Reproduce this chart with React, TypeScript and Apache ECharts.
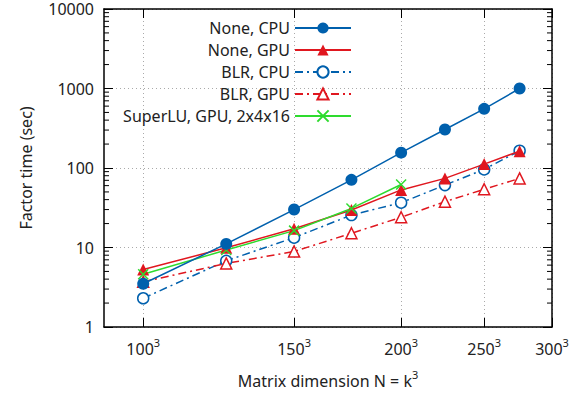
import React, { useEffect, useRef } from "react";
import * as echarts from "echarts";

const kValues = [100, 125, 150, 175, 200, 225, 250, 275];
const noneCpu = [3.5, 11.1, 30, 71, 156, 305, 555, 1000];
const noneGpu = [5.3, 9.9, 17.2, 29.6, 53, 74, 112, 163];
const blrCpu = [2.3, 6.8, 13.3, 25.6, 36.6, 61, 96, 165];
const blrGpu = [3.7, 6.3, 8.9, 15.1, 24, 37.7, 54, 74];
const superluK = [100, 125, 150, 175, 200];
const superluGpu = [4.6, 9.3, 16.3, 31, 62];
const xTickK = [100, 150, 200, 250, 300];
const xMinK = 90;
const xMaxK = 300;
const yMinorTicks = [2, 3, 4, 5, 6, 7, 8, 9, 20, 30, 40, 50, 60, 70, 80, 90, 200, 300, 400, 500, 600, 700, 800, 900, 2000, 3000, 4000, 5000, 6000, 7000, 8000, 9000];

const BLUE = "#0060ad";
const RED = "#e0171f";
const GREEN = "#2edb2e";
const FONT = "Noto Sans";

const cube = (k: number) => k * k * k;
const pairs = (ks: number[], vs: number[]) => ks.map((k, i) => [cube(k), vs[i]]);

export default function App() {
  const ref = useRef<HTMLDivElement>(null);
  useEffect(() => {
    document.body.style.margin = "0";
    const chart = echarts.init(ref.current!, null, { renderer: "svg" });
    const xTicks = xTickK.map(cube);
    const dashDot = [8, 4, 2, 4];
    const option: any = {
      animation: false,
      textStyle: { fontFamily: FONT },
      grid: { left: 104, right: 25, top: 9, bottom: 67, outerBoundsMode: "none", containLabel: false },
      legend: {
        orient: "vertical",
        align: "right",
        right: 225,
        top: 19,
        padding: 0,
        itemWidth: 56,
        itemHeight: 14,
        itemGap: 4,
        textStyle: { fontFamily: FONT, fontSize: 16, color: "#222", lineHeight: 18 },
        data: ["None, CPU", "None, GPU", "BLR, CPU", "BLR, GPU", "SuperLU, GPU, 2x4x16"],
      },
      xAxis: [
        {
          type: "log",
          logBase: 10,
          min: cube(xMinK),
          max: cube(xMaxK),
          name: "{a|Matrix dimension N = k}{s|3}",
          nameLocation: "middle",
          nameGap: 42,
          nameTextStyle: {
            rich: {
              a: { fontFamily: FONT, fontSize: 16, color: "#222", lineHeight: 20, verticalAlign: "bottom" },
              s: { fontFamily: FONT, fontSize: 11, color: "#222", lineHeight: 20, verticalAlign: "top" },
            },
          },
          axisLine: { show: true, onZero: false, lineStyle: { color: "#000", width: 1.5 } },
          axisTick: { show: true, inside: true, length: 9, customValues: xTicks, lineStyle: { color: "#000", width: 1 } },
          axisLabel: {
            customValues: xTicks,
            margin: 10,
            formatter: (v: number) => `{a|${Math.round(Math.cbrt(v))}}{s|3}`,
            rich: {
              a: { fontFamily: FONT, fontSize: 16, color: "#222", lineHeight: 20, verticalAlign: "bottom" },
              s: { fontFamily: FONT, fontSize: 11, color: "#222", lineHeight: 20, verticalAlign: "top" },
            },
          },
          splitLine: { show: true, customValues: xTicks, lineStyle: { color: "#aaa", type: [1, 3], width: 1 } },
          minorTick: { show: false },
        },
        {
          type: "log",
          logBase: 10,
          position: "top",
          min: cube(xMinK),
          max: cube(xMaxK),
          axisLine: { show: true, onZero: false, lineStyle: { color: "#000", width: 1.5 } },
          axisTick: { show: true, inside: true, length: 9, customValues: xTicks, lineStyle: { color: "#000", width: 1 } },
          axisLabel: { show: false },
          splitLine: { show: false },
        },
      ],
      yAxis: [
        {
          type: "log",
          logBase: 10,
          min: 1,
          max: 10000,
          name: "Factor time (sec)",
          nameLocation: "middle",
          nameGap: 70,
          nameTextStyle: { fontFamily: FONT, fontSize: 16, color: "#222" },
          axisLine: { show: true, onZero: false, lineStyle: { color: "#000", width: 1.5 } },
          axisTick: { show: true, inside: true, length: 9, lineStyle: { color: "#000", width: 1 } },
          axisLabel: { fontFamily: FONT, fontSize: 16, lineHeight: 14, color: "#222", margin: 10, formatter: (v: number) => String(Math.round(v)) },
          splitLine: { show: true, lineStyle: { color: "#aaa", type: [1, 3], width: 1 } },
        },
        {
          type: "log",
          logBase: 10,
          min: 1,
          max: 10000,
          position: "right",
          axisLine: { show: true, onZero: false, lineStyle: { color: "#000", width: 1.5 } },
          axisTick: { show: true, inside: true, length: 9, lineStyle: { color: "#000", width: 1 } },
          axisLabel: { show: false },
          splitLine: { show: false },
        },
      ],
      series: [
        {
          name: "None, CPU",
          type: "line",
          data: pairs(kValues, noneCpu),
          symbol: "circle",
          symbolSize: 12,
          itemStyle: { color: BLUE },
          lineStyle: { color: BLUE, width: 1.5 },
          z: 5,
        },
        {
          name: "None, GPU",
          type: "line",
          data: pairs(kValues, noneGpu),
          symbol: "triangle",
          symbolSize: 12,
          itemStyle: { color: RED },
          lineStyle: { color: RED, width: 1.5 },
          z: 4,
        },
        {
          name: "BLR, CPU",
          type: "line",
          data: pairs(kValues, blrCpu),
          symbol: "circle",
          symbolSize: 11,
          itemStyle: { color: "#fff", borderColor: BLUE, borderWidth: 1.5 },
          lineStyle: { color: BLUE, width: 1.5, type: dashDot },
          z: 3,
        },
        {
          name: "BLR, GPU",
          type: "line",
          data: pairs(kValues, blrGpu),
          symbol: "triangle",
          symbolSize: 11,
          itemStyle: { color: "#fff", borderColor: RED, borderWidth: 1.5 },
          lineStyle: { color: RED, width: 1.5, type: dashDot },
          z: 3,
        },
        {
          name: "SuperLU, GPU, 2x4x16",
          type: "line",
          data: pairs(superluK, superluGpu),
          symbol: "path://M0,0L10,10M0,10L10,0",
          symbolSize: 10,
          itemStyle: { color: "none", borderColor: GREEN, borderWidth: 1.5 },
          lineStyle: { color: GREEN, width: 1.5 },
          z: 4,
        },
        {
          type: "custom",
          name: "minorTicks",
          silent: true,
          data: yMinorTicks.map((v) => [cube(xMinK), v]),
          renderItem: (params: any, api: any) => {
            const cs = params.coordSys;
            const y = api.coord([api.value(0), api.value(1)])[1];
            const style = { stroke: "#000", lineWidth: 1 };
            return {
              type: "group",
              children: [
                { type: "line", shape: { x1: cs.x, y1: y, x2: cs.x + 5, y2: y }, style },
                { type: "line", shape: { x1: cs.x + cs.width - 5, y1: y, x2: cs.x + cs.width, y2: y }, style },
              ],
            };
          },
          z: 10,
        },
      ],
    };
    chart.setOption(option);
    return () => chart.dispose();
  }, []);
  return <div ref={ref} style={{ width: 577, height: 394 }} />;
}
